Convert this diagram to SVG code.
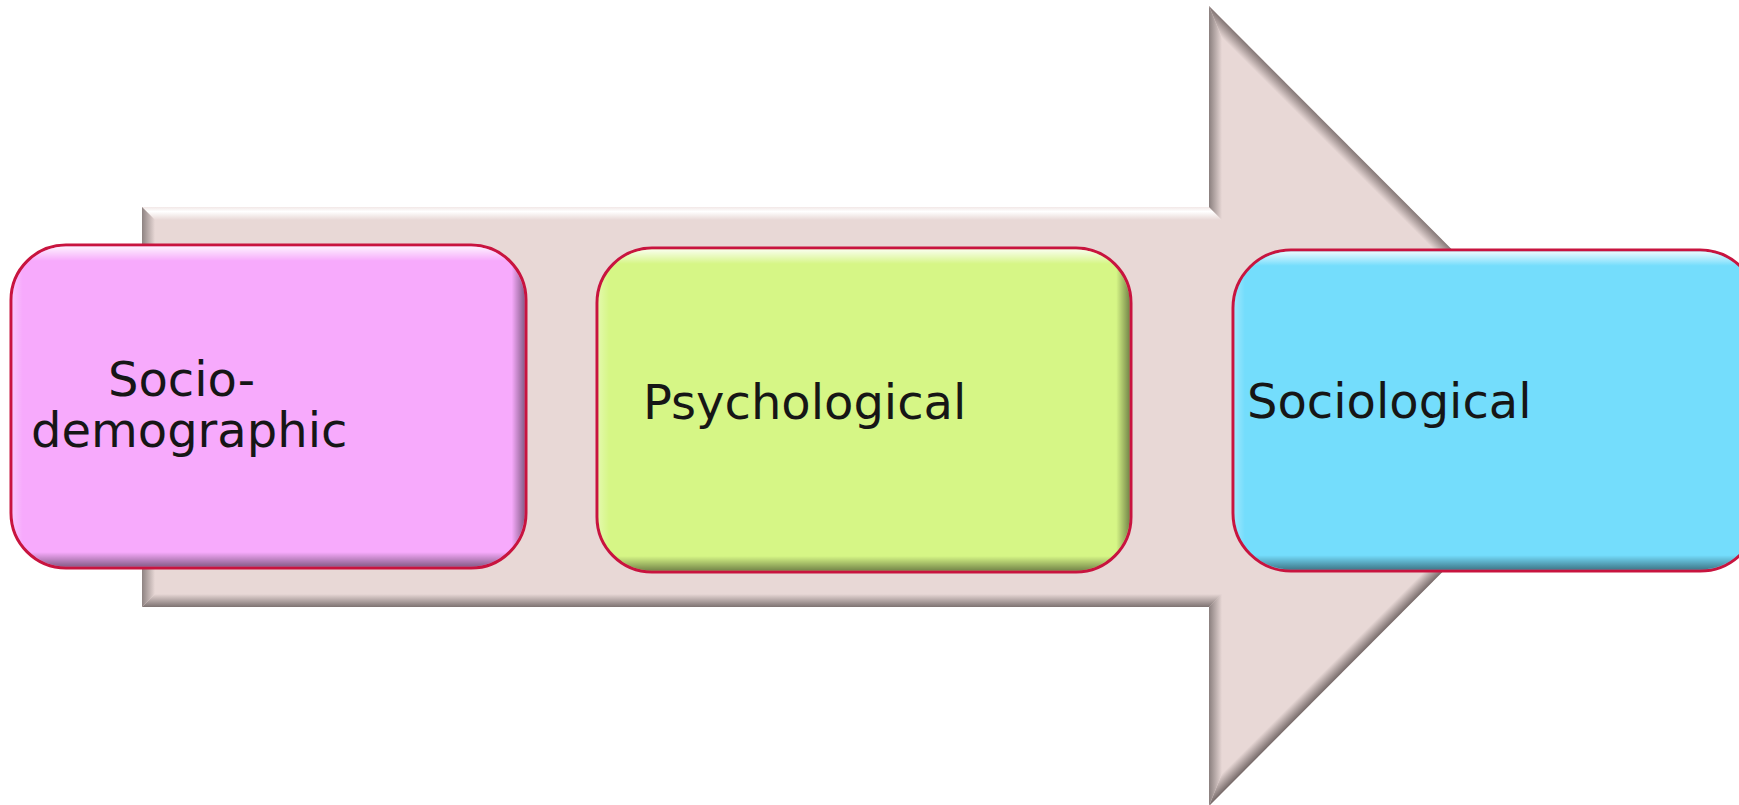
<svg xmlns="http://www.w3.org/2000/svg" width="1739" height="805" viewBox="0 0 1739 805">
  <defs>
    <style>
      .box { stroke: #C8143F; stroke-width: 3; }
      .shadeV { fill: url(#bevelV); }
      .shadeH { fill: url(#bevelH); }
      .label { font-family: "DejaVu Sans", "Liberation Sans", sans-serif; font-size: 48px; fill: #161616; }
    </style>
    <linearGradient id="bevelV" x1="0" y1="0" x2="0" y2="1">
      <stop offset="0" stop-color="#FFFFFF" stop-opacity="0.85"/>
      <stop offset="0.045" stop-color="#FFFFFF" stop-opacity="0"/>
      <stop offset="0.955" stop-color="#000000" stop-opacity="0"/>
      <stop offset="1" stop-color="#000000" stop-opacity="0.45"/>
    </linearGradient>
    <linearGradient id="bevelH" x1="0" y1="0" x2="1" y2="0">
      <stop offset="0" stop-color="#FFFFFF" stop-opacity="0.3"/>
      <stop offset="0.02" stop-color="#FFFFFF" stop-opacity="0"/>
      <stop offset="0.975" stop-color="#000000" stop-opacity="0"/>
      <stop offset="1" stop-color="#000000" stop-opacity="0.45"/>
    </linearGradient>
    <linearGradient id="gTop" gradientUnits="userSpaceOnUse" x1="0" y1="207" x2="0" y2="220">
      <stop offset="0" stop-color="#F2E8E7"/>
      <stop offset="0.35" stop-color="#FFFFFF"/>
      <stop offset="1" stop-color="#E8D8D6"/>
    </linearGradient>
    <linearGradient id="gLeft" gradientUnits="userSpaceOnUse" x1="142" y1="0" x2="155" y2="0">
      <stop offset="0" stop-color="#8E8382"/>
      <stop offset="1" stop-color="#E8D8D6"/>
    </linearGradient>
    <linearGradient id="gHeadV" gradientUnits="userSpaceOnUse" x1="1209" y1="0" x2="1222" y2="0">
      <stop offset="0" stop-color="#8A7F7E"/>
      <stop offset="1" stop-color="#E8D8D6"/>
    </linearGradient>
    <linearGradient id="gDiagUp" gradientUnits="userSpaceOnUse" x1="1400" y1="197.5" x2="1390.8" y2="206.7">
      <stop offset="0" stop-color="#857877"/>
      <stop offset="1" stop-color="#E8D8D6"/>
    </linearGradient>
    <linearGradient id="gDiagDown" gradientUnits="userSpaceOnUse" x1="1400" y1="614" x2="1390.8" y2="604.8">
      <stop offset="0" stop-color="#7A6E6D"/>
      <stop offset="1" stop-color="#E8D8D6"/>
    </linearGradient>
    <linearGradient id="gBottom" gradientUnits="userSpaceOnUse" x1="0" y1="607" x2="0" y2="594">
      <stop offset="0" stop-color="#7E7372"/>
      <stop offset="1" stop-color="#E8D8D6"/>
    </linearGradient>
  </defs>

  <rect x="0" y="0" width="1739" height="805" fill="#FFFFFF"/>

  <g id="process-arrow">
    <polygon points="142,207 1209,207 1209,6 1608,406 1209,806 1209,607 142,607" fill="#E8D8D6"/>
    <polygon points="142,207 1209,207 1222,220 155,220" fill="url(#gTop)"/>
    <polygon points="1209,207 1209,6 1222,37.9 1222,220" fill="url(#gHeadV)"/>
    <polygon points="1209,6 1608,406 1589.85,405.75 1222,37.9" fill="url(#gDiagUp)"/>
    <polygon points="1608,406 1209,806 1222,773.6 1589.85,405.75" fill="url(#gDiagDown)"/>
    <polygon points="1209,806 1209,607 1222,594 1222,773.6" fill="url(#gHeadV)"/>
    <polygon points="1209,607 142,607 155,594 1222,594" fill="url(#gBottom)"/>
    <polygon points="142,607 142,207 155,220 155,594" fill="url(#gLeft)"/>
  </g>

  <g id="node-socio-demographic">
    <rect class="box" x="11" y="245" width="515" height="323" rx="55" ry="55" fill="#F7AAFC"/>
    <rect class="shadeV" x="12.5" y="246.5" width="512" height="320" rx="53.5" ry="53.5"/>
    <rect class="shadeH" x="12.5" y="246.5" width="512" height="320" rx="53.5" ry="53.5"/>
    <text class="label" x="108" y="396">Socio-</text>
    <text class="label" x="31" y="447">demographic</text>
  </g>

  <g id="node-psychological">
    <rect class="box" x="597" y="248" width="534" height="324" rx="55" ry="55" fill="#D6F686"/>
    <rect class="shadeV" x="598.5" y="249.5" width="531" height="321" rx="53.5" ry="53.5"/>
    <rect class="shadeH" x="598.5" y="249.5" width="531" height="321" rx="53.5" ry="53.5"/>
    <text class="label" x="643" y="419">Psychological</text>
  </g>

  <g id="node-sociological">
    <rect class="box" x="1233" y="250" width="525" height="321" rx="58" ry="58" fill="#74DDFC"/>
    <rect class="shadeV" x="1234.5" y="251.5" width="522" height="318" rx="56.5" ry="56.5"/>
    <rect class="shadeH" x="1234.5" y="251.5" width="522" height="318" rx="56.5" ry="56.5"/>
    <text class="label" x="1247" y="418">Sociological</text>
  </g>
</svg>
